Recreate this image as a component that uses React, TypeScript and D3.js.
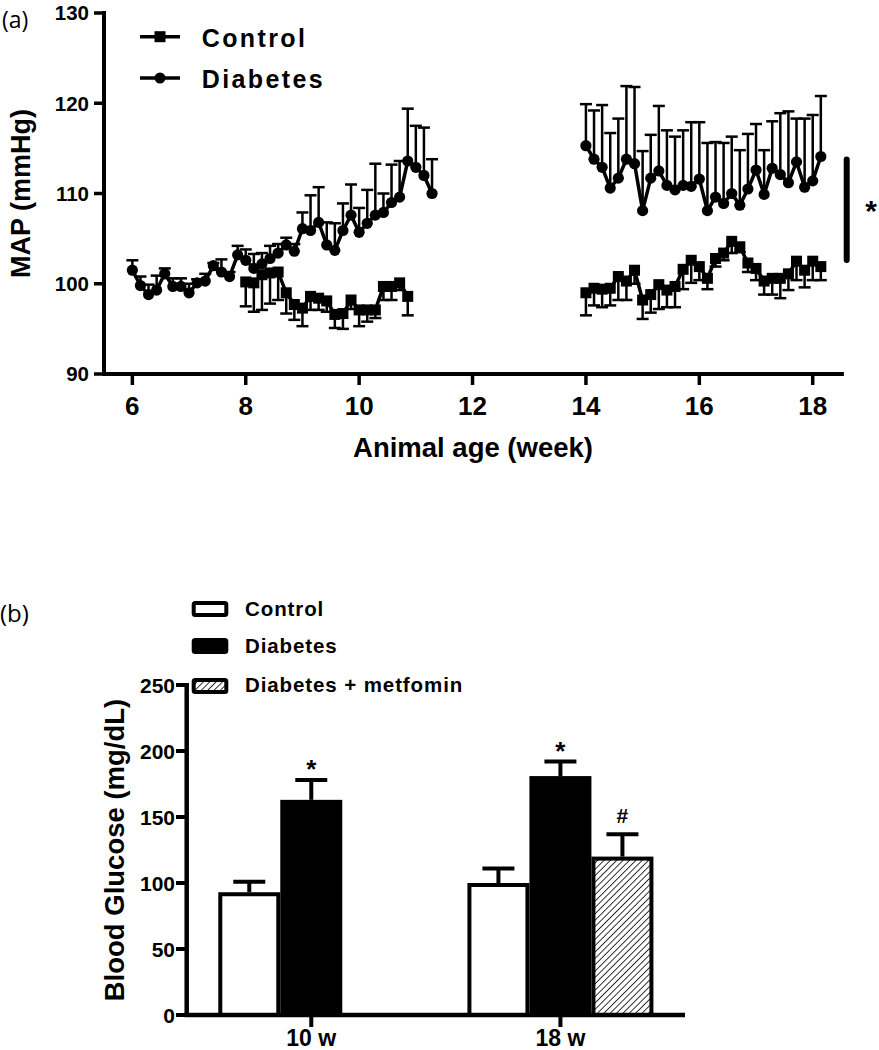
import React from 'react';
import * as d3 from 'd3';

// ---------- Panel (a): MAP time course ----------
const diabetesLeftStart = 6;
const diabetesLeft = [101.5, 99.8, 98.8, 99.3, 101.1, 99.7, 99.7, 99.0, 100.1, 100.3, 102.0, 101.3, 100.8, 103.2, 102.6, 101.7, 102.2, 102.8, 103.4, 104.3, 103.6, 106.1, 105.9, 106.8, 104.3, 103.7, 105.9, 107.6, 105.7, 106.7, 107.6, 107.9, 109.0, 109.6, 113.6, 112.9, 112.0, 110.0];
const diabetesLeftErr = [1.1, 1.0, 1.1, 1.6, 0.6, 0.9, 0.9, 1.0, 0.4, 0.8, 0.3, 1.4, 0.5, 1.0, 1.2, 1.6, 1.2, 1.4, 1.0, 0.8, 0.8, 1.8, 3.9, 3.9, 2.5, 3.0, 3.0, 3.4, 2.7, 3.7, 5.7, 2.1, 4.2, 4.0, 5.8, 4.6, 5.3, 3.8];

const controlLeftStart = 8;
const controlLeft = [100.2, 100.1, 101.0, 101.2, 101.3, 99.0, 97.7, 97.3, 98.6, 98.4, 98.1, 96.6, 96.7, 98.2, 97.1, 97.1, 97.1, 99.7, 99.7, 100.1, 98.6];
const controlLeftErr = [2.7, 3.2, 3.9, 3.4, 3.1, 2.3, 1.7, 2.0, 1.5, 1.3, 1.2, 1.5, 1.7, 1.0, 1.8, 1.3, 0.9, 1.5, 1.5, 0.8, 2.1];

const diabetesRightStart = 14;
const diabetesRight = [115.3, 113.8, 112.9, 110.6, 111.7, 113.8, 113.3, 108.1, 111.7, 112.5, 110.9, 110.4, 110.9, 110.8, 111.6, 108.1, 109.6, 108.9, 110.0, 108.7, 110.5, 112.6, 109.9, 112.8, 112.1, 111.2, 113.5, 110.7, 111.4, 114.1];
const diabetesRightErr = [4.6, 5.4, 6.9, 6.1, 6.6, 8.1, 8.5, 6.6, 4.8, 7.2, 6.1, 5.9, 6.1, 7.1, 6.3, 7.5, 6.1, 6.7, 6.3, 6.1, 6.1, 5.1, 4.9, 5.2, 6.8, 7.9, 4.8, 7.6, 7.3, 6.7];

const controlRightStart = 14;
const controlRight = [99.0, 99.5, 99.4, 99.5, 100.8, 100.3, 101.5, 98.2, 98.8, 99.9, 99.3, 99.7, 101.6, 102.6, 101.9, 100.6, 102.8, 103.4, 104.7, 104.1, 102.3, 101.7, 100.3, 100.6, 100.6, 101.1, 102.5, 101.5, 102.5, 101.9];
const controlRightErr = [2.5, 1.9, 2.0, 1.9, 2.6, 2.1, 1.5, 2.1, 2.0, 2.7, 1.9, 2.3, 2.2, 2.5, 1.5, 1.2, 0.9, 0.8, 1.3, 0.6, 1.0, 1.3, 1.5, 1.8, 2.2, 1.8, 2.1, 1.9, 2.1, 1.5];

const mapXTicks = [6, 8, 10, 12, 14, 16, 18];
const mapYTicks = [90, 100, 110, 120, 130];
const sigBarRange = [102.3, 114.1];

// ---------- Panel (b): Blood glucose ----------
const glucoseGroups = ['10 w', '18 w'];
const glucoseSeries = ['Control', 'Diabetes', 'Diabetes + metfomin'];
const glucoseControl = [93, 100];
const glucoseControlErr = [8, 11];
const glucoseDiabetes = [163, 181];
const glucoseDiabetesErr = [15, 11];
const glucoseMetformin: (number | null)[] = [null, 120];
const glucoseMetforminErr: (number | null)[] = [null, 17];
const glucoseMarks = [['', '*', ''], ['', '*', '#']];
const glucoseYTicks = [0, 50, 100, 150, 200, 250];

const FONT = '"Liberation Sans", Arial, sans-serif';

type Pt = { w: number; v: number; e: number };
const toPts = (start: number, vals: number[], errs: number[]): Pt[] =>
  vals.map((v, i) => ({ w: start + i / 7, v, e: errs[i] }));

export default function App() {
  // ---- scales panel (a)
  const x = d3.scaleLinear().domain([5.5, 18.55]).range([104, 843.9]);
  const y = d3.scaleLinear().domain([90, 130]).range([374, 13]);
  const line = d3.line<Pt>().x(d => x(d.w)).y(d => y(d.v));

  const dSegs = [toPts(diabetesLeftStart, diabetesLeft, diabetesLeftErr), toPts(diabetesRightStart, diabetesRight, diabetesRightErr)];
  const cSegs = [toPts(controlLeftStart, controlLeft, controlLeftErr), toPts(controlRightStart, controlRight, controlRightErr)];

  const capW = 12;
  const sq = 11;

  // ---- scales panel (b)
  const yB = d3.scaleLinear().domain([0, 250]).range([1015, 685]);
  const xG = d3.scalePoint<string>().domain(glucoseGroups).range([186.7, 685]).padding(0.5);
  const xS = d3.scaleBand<string>().domain(glucoseSeries).range([-93, 93]).padding(0);
  const seriesVals = [glucoseControl, glucoseDiabetes, glucoseMetformin];
  const seriesErrs = [glucoseControlErr, glucoseDiabetesErr, glucoseMetforminErr];
  const fills = ['#fff', '#000', 'url(#hatch)'];

  return (
    <svg width={879} height={1050} style={{ position: 'absolute', left: 0, top: 0, background: '#fff' }} fontFamily={FONT}>
      <defs>
        <pattern id="hatch" patternUnits="userSpaceOnUse" width={4.5} height={4.5} patternTransform="rotate(45)">
          <rect width={4.5} height={4.5} fill="#fff" />
          <line x1={0} y1={0} x2={0} y2={4.5} stroke="#000" strokeWidth={1.6} />
        </pattern>
      </defs>

      {/* ================= Panel (a) ================= */}
      <text x={2} y={28} fontSize={23} fontFamily='"Open Sans", sans-serif'>(a)</text>

      {/* axes */}
      <line x1={104} x2={104} y1={11} y2={376} stroke="#000" strokeWidth={4} />
      <line x1={102} x2={843.9} y1={374} y2={374} stroke="#000" strokeWidth={4} />
      {mapYTicks.map(t => (
        <g key={'yt' + t}>
          <line x1={94} x2={104} y1={y(t)} y2={y(t)} stroke="#000" strokeWidth={3.5} />
          <text x={89} y={y(t)} dy="0.36em" textAnchor="end" fontSize={20.5} fontWeight="bold">{t}</text>
        </g>
      ))}
      {mapXTicks.map(t => (
        <g key={'xt' + t}>
          <line x1={x(t)} x2={x(t)} y1={374} y2={385} stroke="#000" strokeWidth={3.5} />
          <text x={x(t)} y={415} textAnchor="middle" fontSize={26} fontWeight="bold">{t}</text>
        </g>
      ))}
      <text x={473} y={457} textAnchor="middle" fontSize={27.5} fontWeight="bold">Animal age (week)</text>
      <text transform={`translate(30,${y(110)}) rotate(-90)`} textAnchor="middle" fontSize={27} fontWeight="bold">MAP (mmHg)</text>

      {/* legend */}
      <line x1={140} x2={180} y1={36.7} y2={36.7} stroke="#000" strokeWidth={3.5} />
      <rect x={160 - 5.5} y={36.7 - 5.5} width={11} height={11} fill="#000" />
      <text x={201.7} y={46.7} fontSize={25} fontWeight="bold" letterSpacing={2.4}>Control</text>
      <line x1={140} x2={180} y1={78} y2={78} stroke="#000" strokeWidth={3.5} />
      <circle cx={160} cy={78} r={5.5} fill="#000" />
      <text x={201.7} y={88.3} fontSize={25} fontWeight="bold" letterSpacing={2.4}>Diabetes</text>

      {/* diabetes series */}
      {dSegs.map((seg, si) => (
        <g key={'d' + si}>
          {seg.map((p, i) => (
            <g key={i} stroke="#000" strokeWidth={2.5}>
              <line x1={x(p.w)} x2={x(p.w)} y1={y(p.v)} y2={y(p.v + p.e)} />
              <line x1={x(p.w) - capW / 2} x2={x(p.w) + capW / 2} y1={y(p.v + p.e)} y2={y(p.v + p.e)} />
            </g>
          ))}
          <path d={line(seg) || ''} fill="none" stroke="#000" strokeWidth={3.5} />
          {seg.map((p, i) => (
            <circle key={'c' + i} cx={x(p.w)} cy={y(p.v)} r={5.6} fill="#000" />
          ))}
        </g>
      ))}

      {/* control series */}
      {cSegs.map((seg, si) => (
        <g key={'c' + si}>
          {seg.map((p, i) => (
            <g key={i} stroke="#000" strokeWidth={2.5}>
              <line x1={x(p.w)} x2={x(p.w)} y1={y(p.v)} y2={y(p.v - p.e)} />
              <line x1={x(p.w) - capW / 2} x2={x(p.w) + capW / 2} y1={y(p.v - p.e)} y2={y(p.v - p.e)} />
            </g>
          ))}
          <path d={line(seg) || ''} fill="none" stroke="#000" strokeWidth={3.5} />
          {seg.map((p, i) => (
            <rect key={'s' + i} x={x(p.w) - sq / 2} y={y(p.v) - sq / 2} width={sq} height={sq} fill="#000" />
          ))}
        </g>
      ))}

      {/* significance bar */}
      <rect x={843.7} y={y(sigBarRange[1])} width={6} height={y(sigBarRange[0]) - y(sigBarRange[1])} rx={3} fill="#000" />
      <text x={871} y={221} textAnchor="middle" fontSize={30} fontWeight="bold">*</text>

      {/* ================= Panel (b) ================= */}
      <text x={0} y={622} fontSize={24} fontFamily='"Open Sans", sans-serif'>(b)</text>

      {/* legend */}
      {glucoseSeries.map((s, i) => {
        const cy = [609, 646, 686][i];
        const by = [615.7, 653, 691.7][i];
        return (
          <g key={'lg' + s}>
            <rect x={193.7} y={cy - 6} width={32.6} height={12} rx={1.5} fill={fills[i]} stroke="#000" strokeWidth={4} />
            <text x={245} y={by} fontSize={20.5} fontWeight="bold" letterSpacing={0.9}>{s}</text>
          </g>
        );
      })}

      {/* bars */}
      {glucoseGroups.map((g, gi) => (
        <g key={'grp' + g}>
          {glucoseSeries.map((s, si) => {
            const v = seriesVals[si][gi];
            const e = seriesErrs[si][gi];
            if (v == null || e == null) return null;
            const bx = (xG(g) as number) + (xS(s) as number);
            const bw = xS.bandwidth();
            const cx = bx + bw / 2;
            const mark = glucoseMarks[gi][si];
            return (
              <g key={s}>
                <line x1={cx} x2={cx} y1={yB(v)} y2={yB(v + e)} stroke="#000" strokeWidth={4} />
                <line x1={cx - 16} x2={cx + 16} y1={yB(v + e)} y2={yB(v + e)} stroke="#000" strokeWidth={4} />
                <rect x={bx + 2} y={yB(v) + 2} width={bw - 4} height={yB(0) - yB(v) - 2} fill={fills[si]} stroke="#000" strokeWidth={4} />
                {mark === '*' && (
                  <text x={cx} y={yB(v + e) - 2} textAnchor="middle" fontSize={26} fontWeight="bold">*</text>
                )}
                {mark === '#' && (
                  <text x={cx} y={yB(v + e) - 11} textAnchor="middle" fontSize={21} fontWeight="bold">#</text>
                )}
              </g>
            );
          })}
          <line x1={xG(g)} x2={xG(g)} y1={1015} y2={1027} stroke="#000" strokeWidth={4} />
          <text x={xG(g)} y={1046} textAnchor="middle" fontSize={23} fontWeight="bold">{g}</text>
        </g>
      ))}

      {/* axes */}
      <line x1={186.7} x2={186.7} y1={683} y2={1017} stroke="#000" strokeWidth={4.5} />
      <line x1={184.5} x2={685} y1={1015} y2={1015} stroke="#000" strokeWidth={4.5} />
      {glucoseYTicks.map(t => (
        <g key={'gy' + t}>
          <line x1={176} x2={186.7} y1={yB(t)} y2={yB(t)} stroke="#000" strokeWidth={4} />
          <text x={175} y={yB(t)} dy="0.36em" textAnchor="end" fontSize={21} fontWeight="bold">{t}</text>
        </g>
      ))}
      <text transform={`translate(124,850) rotate(-90)`} textAnchor="middle" fontSize={27.5} fontWeight="bold">Blood Glucose (mg/dL)</text>
    </svg>
  );
}
